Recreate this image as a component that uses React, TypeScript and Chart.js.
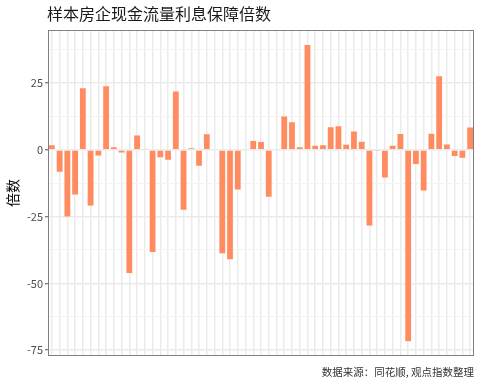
import React, { useEffect, useRef } from "react";
import { Chart, registerables } from "chart.js";

Chart.register(...registerables);

const TITLE = "样本房企现金流量利息保障倍数";
const CAPTION = "数据来源：同花顺, 观点指数整理";
const Y_TITLE = "倍数";

const values: number[] = [
  1.9, -8.5, -25.2, -17, 23.2, -21.1, -2.4, 24, 1.1, -1.25,
  -46.4, 5.5, 0.4, -38.5, -3, -4, 22, -22.7, 0.75, -6.2,
  6, -0.3, -39, -41.2, -15.1, 0.3, 3.5, 3.1, -17.8, -0.3,
  12.7, 10.5, 1.1, 39.4, 1.7, 1.9, 8.6, 9, 2.1, 7,
  3.2, -28.6, -0.6, -10.6, 1.7, 6.1, -71.9, -5.6, -15.5, 6.2,
  27.7, 2.2, -2.6, -3.2, 8.5,
];
const categories: string[] = values.map((_, i) => `企业${i + 1}`);
const yTicks: number[] = [-75, -62.5, -50, -37.5, -25, -12.5, 0, 12.5, 25, 37.5];
const Y_MIN = -77.2;
const Y_MAX = 44.8;

const FONT = "'Noto Sans CJK SC', 'Noto Sans', sans-serif";

const frame = {
  id: "frameAndText",
  afterDraw(chart: any) {
    const { ctx, chartArea } = chart;
    ctx.save();
    ctx.strokeStyle = "#7f7f7f";
    ctx.lineWidth = 1;
    ctx.strokeRect(
      Math.round(chartArea.left) + 0.5,
      Math.round(chartArea.top) + 0.5,
      Math.round(chartArea.right - chartArea.left) - 1,
      Math.round(chartArea.bottom - chartArea.top) - 1
    );
    ctx.fillStyle = "#1a1a1a";
    ctx.font = `16px ${FONT}`;
    ctx.textBaseline = "middle";
    ctx.textAlign = "left";
    ctx.fillText(TITLE, 47, 14);
    ctx.fillStyle = "#333333";
    ctx.font = `10.5px ${FONT}`;
    ctx.textAlign = "right";
    ctx.fillText(CAPTION, 474, 372);
    ctx.restore();
  },
};

export default function App() {
  const ref = useRef<HTMLCanvasElement | null>(null);
  useEffect(() => {
    if (!ref.current) return;
    const chart = new Chart(ref.current, {
      type: "bar",
      data: {
        labels: categories,
        datasets: [
          {
            data: values,
            backgroundColor: "#FF8C60",
            borderColor: "rgba(255,235,225,0.8)",
            borderWidth: 0.6,
            barPercentage: 0.9,
            categoryPercentage: 1,
          },
        ],
      },
      options: {
        animation: false,
        responsive: false,
        maintainAspectRatio: false,
        layout: { padding: { top: 30, right: 8, bottom: 30, left: 0 } },
        plugins: {
          legend: { display: false },
          tooltip: { enabled: false },
          title: { display: false },
        },
        scales: {
          x: {
            type: "category",
            offset: true,
            ticks: { display: false },
            grid: {
              offset: false,
              color: "#EBEBEB",
              lineWidth: 1.5,
              drawTicks: false,
            },
            border: { display: false },
            afterFit(scale: any) {
              scale.height = 0;
            },
          },
          y: {
            type: "linear",
            min: Y_MIN,
            max: Y_MAX,
            afterBuildTicks(scale: any) {
              scale.ticks = yTicks.map((v) => ({ value: v }));
            },
            afterFit(scale: any) {
              scale.width = 48;
            },
            ticks: {
              padding: 2,
              color: "#4D4D4D",
              font: { size: 11, family: FONT },
              callback: (v: any) => (Number(v) % 25 === 0 ? String(v) : ""),
            },
            grid: {
              color: (c: any) => (c.tick && c.tick.value % 25 === 0 ? "#EBEBEB" : "#F3F3F3"),
              lineWidth: (c: any) => (c.tick && c.tick.value % 25 === 0 ? 1.5 : 1),
              tickLength: 3,
              tickColor: (c: any) => (c.tick && c.tick.value % 25 === 0 ? "#555555" : "rgba(0,0,0,0)"),
              tickWidth: 1,
            },
            border: { display: false },
            title: {
              display: true,
              text: Y_TITLE,
              color: "#000000",
              font: { size: 14, family: FONT },
              padding: { top: 4, bottom: 0 },
            },
          },
        },
      },
      plugins: [frame],
    });
    return () => chart.destroy();
  }, []);
  return (
    <div style={{ position: "fixed", left: 0, top: 0, width: 482, height: 386, background: "#fff" }}>
      <canvas ref={ref} width={482} height={386} style={{ width: 482, height: 386 }} />
    </div>
  );
}
